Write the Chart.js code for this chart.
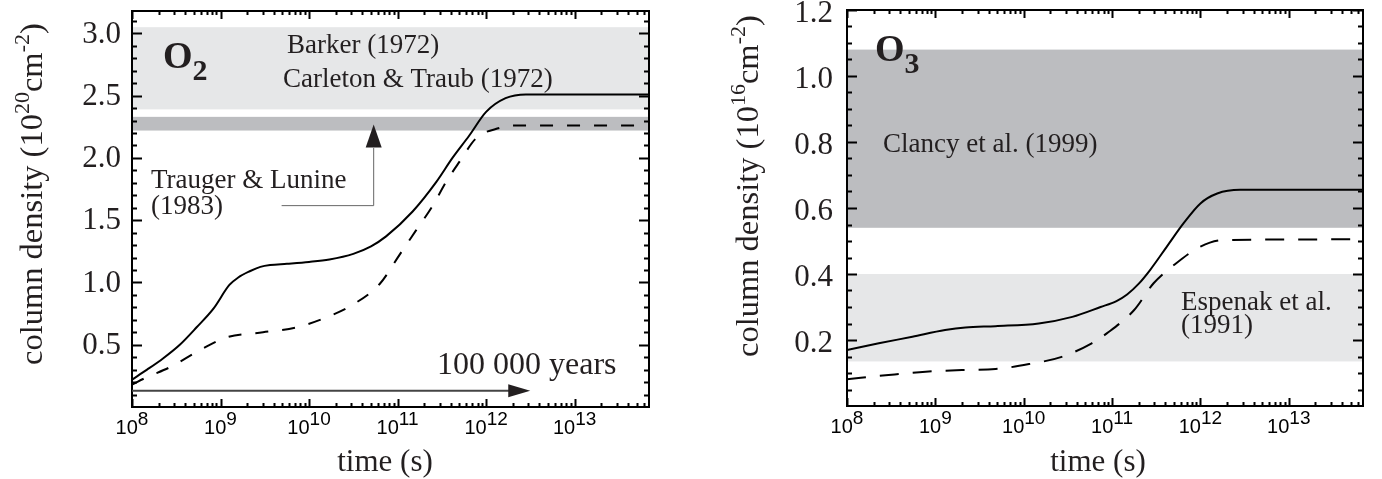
<!DOCTYPE html>
<html>
<head>
<meta charset="utf-8">
<script src="https://cdn.jsdelivr.net/npm/chart.js@4.4.0/dist/chart.umd.min.js"></script>
<style>
  html, body { margin: 0; padding: 0; background: #fff; }
  canvas { position: absolute; top: 0; }
  #o2Chart { left: 0; }
  #o3Chart { left: 690px; }
</style>
</head>
<body>
<canvas id="o2Chart" width="680" height="479"></canvas>
<canvas id="o3Chart" width="692" height="479"></canvas>
<script>
// ---- data (time as log10 seconds) ----
const o2SolidLogT = [8.00, 8.17, 8.35, 8.54, 8.73, 8.92, 9.10, 9.20, 9.33, 9.45, 9.56, 9.75, 10.00, 10.23, 10.50, 10.70, 10.87, 11.17, 11.44, 11.62, 11.81, 12.00, 12.22, 12.45, 13.84];
const o2SolidN    = [0.22, 0.30, 0.39, 0.50, 0.64, 0.79, 0.98, 1.04, 1.09, 1.125, 1.14, 1.15, 1.165, 1.185, 1.23, 1.29, 1.37, 1.57, 1.81, 2.00, 2.18, 2.37, 2.48, 2.51, 2.51];
const o2DashLogT  = [8.00, 8.17, 8.43, 8.80, 9.07, 9.48, 9.86, 10.23, 10.49, 10.80, 11.02, 11.21, 11.40, 11.55, 11.70, 11.89, 12.15, 12.30, 13.84];
const o2DashN     = [0.18, 0.24, 0.32, 0.47, 0.56, 0.60, 0.64, 0.73, 0.82, 0.99, 1.22, 1.42, 1.62, 1.81, 1.97, 2.16, 2.24, 2.26, 2.26];

const o3SolidLogT = [8.00, 8.36, 8.74, 9.11, 9.34, 9.68, 10.17, 10.55, 10.87, 11.05, 11.17, 11.30, 11.43, 11.62, 11.81, 12.00, 12.19, 12.45, 13.84];
const o3SolidN    = [0.170, 0.190, 0.210, 0.230, 0.238, 0.242, 0.250, 0.270, 0.300, 0.318, 0.338, 0.370, 0.412, 0.483, 0.554, 0.614, 0.644, 0.655, 0.655];
const o3DashLogT  = [8.00, 8.47, 8.89, 9.30, 9.68, 10.06, 10.43, 10.77, 10.94, 11.25, 11.47, 11.70, 12.00, 12.26, 13.84];
const o3DashN     = [0.081, 0.094, 0.104, 0.109, 0.112, 0.127, 0.149, 0.190, 0.220, 0.291, 0.372, 0.427, 0.483, 0.503, 0.505];

// observed ranges [from, to]
const barkerBand  = [2.39, 3.05];
const traugerBand = [2.22, 2.33];
const clancyBand  = [0.54, 1.08];
const espenakBand = [0.135, 0.40];

// axis ticks
const xDecades  = [8, 9, 10, 11, 12, 13];
const o2YLabels = [0.5, 1.0, 1.5, 2.0, 2.5, 3.0];
const o3YLabels = [0.2, 0.4, 0.6, 0.8, 1.0, 1.2];

const TEXT = '#231f20';
const SERIF = "'Liberation Serif', 'Times New Roman', serif";
const SANS = "'Liberation Sans', Arial, sans-serif";
const LIGHT = '#e6e7e8';
const DARK = '#bcbdc0';

const toPoints = (logT, n) => logT.map((t, i) => ({ x: Math.pow(10, t), y: n[i] }));

// draw a sequence of text runs (for super/subscripts)
function drawRuns(ctx, x, y, runs) {
  runs.forEach(([t, size, dy, bold]) => {
    ctx.font = (bold ? 'bold ' : '') + size + 'px ' + SERIF;
    ctx.fillText(t, x, y + dy);
    x += ctx.measureText(t).width;
  });
}

function arrowHead(ctx, tipX, tipY, dir, len, half) {
  ctx.beginPath();
  if (dir === 'right') {
    ctx.moveTo(tipX, tipY);
    ctx.lineTo(tipX - len, tipY - half);
    ctx.lineTo(tipX - len, tipY + half);
  } else {
    ctx.moveTo(tipX, tipY);
    ctx.lineTo(tipX - half, tipY + len);
    ctx.lineTo(tipX + half, tipY + len);
  }
  ctx.closePath();
  ctx.fill();
}

const framePlugin = {
  id: 'frame',
  beforeDatasetsDraw(chart, args, o) {
    const { ctx, chartArea: a, scales: { y } } = chart;
    ctx.save();
    o.bands.forEach(b => {
      const y1 = y.getPixelForValue(b.range[1]);
      const y2 = y.getPixelForValue(b.range[0]);
      ctx.fillStyle = b.color;
      ctx.fillRect(a.left, y1, a.right - a.left, y2 - y1);
    });
    ctx.restore();
  },
  afterDraw(chart, args, o) {
    const { ctx, chartArea: a, scales: { x, y } } = chart;
    ctx.save();

    // frame
    ctx.strokeStyle = '#000';
    ctx.lineWidth = 2;
    ctx.strokeRect(a.left, a.top, a.right - a.left, a.bottom - a.top);

    // inward ticks on all four sides
    ctx.beginPath();
    const yTick = (v, len) => {
      const p = Math.round(y.getPixelForValue(v)) + 0.5;
      ctx.moveTo(a.left, p); ctx.lineTo(a.left + len, p);
      ctx.moveTo(a.right, p); ctx.lineTo(a.right - len, p);
    };
    const xTick = (v, len) => {
      const p = Math.round(x.getPixelForValue(v)) + 0.5;
      ctx.moveTo(p, a.bottom); ctx.lineTo(p, a.bottom - len);
      ctx.moveTo(p, a.top); ctx.lineTo(p, a.top + len);
    };
    for (let v = o.minorStep; v < y.max - 1e-9; v += o.minorStep) yTick(v, 5);
    o.yLabels.forEach(v => yTick(v, 10));
    xDecades.forEach(n => {
      xTick(Math.pow(10, n), 8);
      for (let m = 2; m <= 9; m++) {
        const v = m * Math.pow(10, n);
        if (v < x.max) xTick(v, 4);
      }
    });
    ctx.stroke();

    // x tick labels 10^n
    ctx.fillStyle = '#000';
    ctx.textBaseline = 'alphabetic';
    xDecades.forEach(n => {
      const px = x.getPixelForValue(Math.pow(10, n));
      ctx.font = '20px ' + SANS;
      const w1 = ctx.measureText('10').width;
      ctx.font = '19px ' + SANS;
      const w2 = ctx.measureText(String(n)).width;
      const sx = px - (w1 + w2) / 2;
      ctx.font = '20px ' + SANS;
      ctx.fillText('10', sx, a.bottom + 27);
      ctx.font = '19px ' + SANS;
      ctx.fillText(String(n), sx + w1, a.bottom + 18);
    });

    ctx.fillStyle = TEXT;
    // x title
    ctx.font = '31px ' + SERIF;
    ctx.textAlign = 'center';
    ctx.fillText('time (s)', o.xTitle.x, o.xTitle.y);
    ctx.textAlign = 'left';

    // y title (rotated)
    ctx.save();
    ctx.translate(o.yTitle.x, o.yTitle.y);
    ctx.rotate(-Math.PI / 2);
    drawRuns(ctx, 0, 0, [
      ['column density (10', 32.5, 0],
      [o.yTitle.exp, 22, -13],
      ['cm', 32.5, 0],
      ['-2', 22, -13],
      [')', 32.5, 0]
    ]);
    ctx.restore();

    // annotations
    o.draw(ctx, a, x, y);
    ctx.restore();
  }
};

function makeChart(id, cfg) {
  return new Chart(document.getElementById(id), {
    type: 'line',
    data: {
      datasets: [
        {
          data: cfg.solid,
          borderColor: '#000',
          borderWidth: 2,
          pointRadius: 0,
          cubicInterpolationMode: 'monotone'
        },
        {
          data: cfg.dashed,
          borderColor: '#000',
          borderWidth: 2,
          borderDash: cfg.dash,
          pointRadius: 0,
          cubicInterpolationMode: 'monotone'
        }
      ]
    },
    options: {
      responsive: false,
      devicePixelRatio: 1,
      animation: false,
      layout: { padding: cfg.padding },
      plugins: {
        legend: { display: false },
        tooltip: { enabled: false },
        frame: cfg.frame
      },
      scales: {
        x: {
          type: 'logarithmic',
          min: 1e8,
          max: Math.pow(10, 13.84),
          display: false
        },
        y: {
          min: 0,
          max: cfg.yMax,
          afterBuildTicks(scale) {
            scale.ticks = cfg.yLabels.map(v => ({ value: v }));
          },
          afterFit(scale) {
            scale.width = cfg.yWidth;
            scale.paddingTop = 0;
            scale.paddingBottom = 0;
          },
          grid: { display: false, drawTicks: false },
          border: { display: false },
          ticks: {
            autoSkip: false,
            padding: cfg.labelPad,
            labelOffset: cfg.labelOffset,
            color: TEXT,
            font: { family: SERIF, size: 31 },
            callback: v => v.toFixed(1)
          }
        }
      }
    },
    plugins: [framePlugin]
  });
}

// O2 panel
makeChart('o2Chart', {
  solid: toPoints(o2SolidLogT, o2SolidN),
  dashed: toPoints(o2DashLogT, o2DashN),
  dash: [13, 14],
  padding: { left: 0, top: 11, right: 31, bottom: 72 },
  yWidth: 132,
  yMax: 3.18,
  yLabels: o2YLabels,
  labelPad: 11,
  labelOffset: 1,
  frame: {
    bands: [
      { range: barkerBand, color: LIGHT },
      { range: traugerBand, color: DARK }
    ],
    minorStep: 0.1,
    yLabels: o2YLabels,
    xTitle: { x: 385, y: 471 },
    yTitle: { x: 42, y: 365, exp: '20' },
    draw(ctx, a, x, y) {
      // Trauger & Lunine pointer
      const vx = x.getPixelForValue(Math.pow(10, 10.73));
      ctx.strokeStyle = '#666';
      ctx.lineWidth = 1;
      ctx.beginPath();
      ctx.moveTo(x.getPixelForValue(Math.pow(10, 9.69)), y.getPixelForValue(1.617));
      ctx.lineTo(vx, y.getPixelForValue(1.617));
      ctx.lineTo(vx, y.getPixelForValue(2.08));
      ctx.stroke();
      ctx.fillStyle = '#231f20';
      arrowHead(ctx, vx, y.getPixelForValue(2.268), 'up', 23, 8);

      // 100 000 years arrow
      const ay = y.getPixelForValue(0.13);
      const tip = x.getPixelForValue(3.15e12);
      ctx.strokeStyle = '#444';
      ctx.lineWidth = 2;
      ctx.beginPath();
      ctx.moveTo(a.left, ay);
      ctx.lineTo(tip - 10, ay);
      ctx.stroke();
      arrowHead(ctx, tip, ay, 'right', 22, 6.5);

      ctx.fillStyle = TEXT;
      drawRuns(ctx, a.left + 31, a.top + 57, [['O', 38, 0, true], ['2', 30, 12, true]]);
      ctx.font = '27px ' + SERIF;
      ctx.fillText('Barker (1972)', a.left + 155, a.top + 42);
      ctx.fillText('Carleton & Traub (1972)', a.left + 151, a.top + 76);
      ctx.fillText('Trauger & Lunine', a.left + 19, a.top + 177);
      ctx.fillText('(1983)', a.left + 19, a.top + 203);
      ctx.font = '32px ' + SERIF;
      ctx.fillText('100 000 years', a.left + 305, a.top + 363);
    }
  }
});

// O3 panel
makeChart('o3Chart', {
  solid: toPoints(o3SolidLogT, o3SolidN),
  dashed: toPoints(o3DashLogT, o3DashN),
  dash: [19, 14],
  padding: { left: 0, top: 10, right: 19, bottom: 73 },
  yWidth: 157,
  yMax: 1.2,
  yLabels: o3YLabels,
  labelPad: 14,
  labelOffset: 4,
  frame: {
    bands: [
      { range: clancyBand, color: DARK },
      { range: espenakBand, color: LIGHT }
    ],
    minorStep: 0.05,
    yLabels: o3YLabels,
    xTitle: { x: 408, y: 471 },
    yTitle: { x: 68, y: 357, exp: '16' },
    draw(ctx, a, x, y) {
      ctx.fillStyle = TEXT;
      drawRuns(ctx, a.left + 28, a.top + 51, [['O', 38, 0, true], ['3', 30, 12, true]]);
      ctx.font = '27px ' + SERIF;
      ctx.fillText('Clancy et al. (1999)', a.left + 36, a.top + 142);
      ctx.fillText('Espenak et al.', a.left + 334, a.top + 300);
      ctx.fillText('(1991)', a.left + 334, a.top + 323);
    }
  }
});
</script>
</body>
</html>
